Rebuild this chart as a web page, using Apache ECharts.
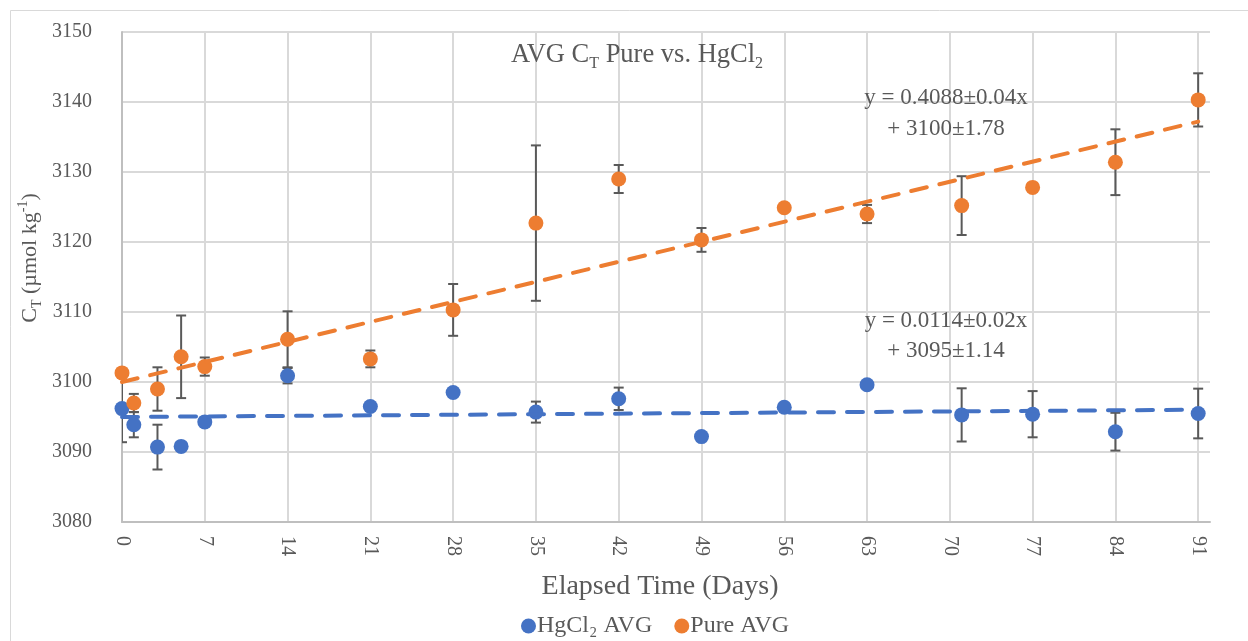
<!DOCTYPE html>
<html>
<head>
<meta charset="utf-8">
<script src="https://cdn.jsdelivr.net/npm/echarts@6/dist/echarts.min.js"></script>
<style>html,body{margin:0;padding:0;background:#fff;}#chart{width:1248px;height:641px;}</style>
</head>
<body>
<div id="chart"></div>
<script>
// ---- data ----
const days = [0, 1, 3, 5, 7, 14, 21, 28, 35, 42, 49, 56, 63, 71, 77, 84, 91];
const hgAvg = [3096.2, 3093.9, 3090.7, 3090.8, 3094.3, 3100.9, 3096.5, 3098.5, 3095.7, 3097.6, 3092.2, 3096.4, 3099.6, 3095.3, 3095.4, 3092.9, 3095.5];
const hgErr = [4.8, 1.8, 3.2, 0, 0, 1.1, 0, 0, 1.5, 1.6, 0, 0, 0, 3.8, 3.3, 2.7, 3.55];
const pureAvg = [3101.3, 3097.0, 3099.0, 3103.6, 3102.2, 3106.1, 3103.3, 3110.3, 3122.7, 3129.0, 3120.3, 3124.9, 3124.0, 3125.2, 3127.8, 3131.4, 3140.3];
const pureErr = [0, 1.3, 3.1, 5.9, 1.3, 4.0, 1.2, 3.7, 11.1, 2.0, 1.7, 0, 1.3, 4.2, 0, 4.7, 3.8];
const seriesNames = ['HgCl\u2082 AVG', 'Pure AVG'];
const trendSlope = [0.0114, 0.4088];
const trendIntercept = [3095, 3100];
const trendLabels = [['y = 0.0114\u00b10.02x', '+ 3095\u00b11.14'], ['y = 0.4088\u00b10.04x', '+ 3100\u00b11.78']];
const xTicks = {min: 0, max: 92, interval: 7};
const yTicks = {min: 3080, max: 3150, interval: 10};

const BLUE = '#4472C4', ORANGE = '#ED7D31', TXT = '#595959';
const FONT = '"Liberation Serif", "Times New Roman", serif';

function pts(xs, ys) { return xs.map((x, i) => [x, ys[i]]); }
function errData(xs, ys, es) {
  return xs.map((x, i) => [x, ys[i] - es[i], ys[i] + es[i], es[i]]).filter(d => d[3] > 0);
}
function trend(k) {
  const x0 = days[0], x1 = days[days.length - 1];
  return [[x0, trendIntercept[k] + trendSlope[k] * x0], [x1, trendIntercept[k] + trendSlope[k] * x1]];
}
function errRender(params, api) {
  const x = api.value(0), lo = api.value(1), hi = api.value(2);
  const t = api.coord([x, hi]), b = api.coord([x, lo]);
  const c = 5;
  const st = {stroke: TXT, lineWidth: 2};
  return {type: 'group', children: [
    {type: 'line', shape: {x1: t[0], y1: t[1], x2: b[0], y2: b[1]}, style: st},
    {type: 'line', shape: {x1: t[0] - c, y1: t[1], x2: t[0] + c, y2: t[1]}, style: st},
    {type: 'line', shape: {x1: b[0] - c, y1: b[1], x2: b[0] + c, y2: b[1]}, style: st}
  ]};
}

const chart = echarts.init(document.getElementById('chart'), null, {renderer: 'canvas'});
function richSet(size) {
  const s = Math.round(size * 0.62);
  return {
    n: {fontFamily: FONT, fontSize: size, fontWeight: 'normal', color: TXT, lineHeight: size + 6},
    sub: {fontFamily: FONT, fontSize: s, fontWeight: 'normal', color: TXT, lineHeight: s, verticalAlign: 'bottom'},
    sup: {fontFamily: FONT, fontSize: s, fontWeight: 'normal', color: TXT, lineHeight: s, verticalAlign: 'top'}
  };
}
const option = {
  backgroundColor: '#fff',
  animation: false,
  title: {
    text: '{n|AVG C}{sub|T}{n| Pure vs. HgCl}{sub|2}',
    left: 632, top: 34, textAlign: 'center',
    textStyle: {fontWeight: 'normal', rich: richSet(26.5)}
  },
  grid: {left: 122, top: 32, right: 38, bottom: 119, containLabel: false},
  xAxis: {
    type: 'value', min: xTicks.min, max: xTicks.max, interval: xTicks.interval,
    name: 'Elapsed Time (Days)', nameLocation: 'middle', nameGap: 51,
    nameTextStyle: {fontFamily: FONT, fontSize: 28, color: TXT, padding: [0, 12, 0, 0]},
    axisLine: {show: true, lineStyle: {color: '#BFBFBF', width: 2}},
    axisTick: {show: false},
    axisLabel: {rotate: -90, margin: 14, fontFamily: FONT, fontSize: 20, color: TXT, showMaxLabel: false},
    splitLine: {show: true, showMaxLine: false, lineStyle: {color: '#D9D9D9', width: 2}}
  },
  yAxis: {
    type: 'value', min: yTicks.min, max: yTicks.max, interval: yTicks.interval,
    name: '{n|C}{sub|T}{n| (\u00b5mol kg}{sup|-1}{n|)}', nameLocation: 'middle', nameGap: 78, nameRotate: 90,
    nameMoveOverlap: false,
    nameTextStyle: {rich: richSet(22), padding: [0, 0, 0, 38]},
    axisLine: {show: true, lineStyle: {color: '#BFBFBF', width: 2}},
    axisTick: {show: false},
    axisLabel: {margin: 30, fontFamily: FONT, fontSize: 20, color: TXT, formatter: v => String(v)},
    splitLine: {show: true, lineStyle: {color: '#D9D9D9', width: 2}}
  },
  legend: {
    data: seriesNames, bottom: -2, left: 516, icon: 'circle', itemWidth: 15, itemHeight: 15, itemGap: 22,
    textStyle: {fontFamily: FONT, fontSize: 24, color: TXT, padding: [0, 0, 0, -4]}
  },
  graphic: [
    {type: 'rect', silent: true, z: -10, shape: {x: 10.5, y: 10.5, width: 1300, height: 700}, style: {fill: 'none', stroke: '#D9D9D9', lineWidth: 1}}
  ],
  series: [
    {type: 'custom', name: 'errHg', renderItem: errRender, data: errData(days, hgAvg, hgErr), z: 2, clip: true, silent: true},
    {type: 'custom', name: 'errPure', renderItem: errRender, data: errData(days, pureAvg, pureErr), z: 2, clip: true, silent: true},
    {type: 'scatter', name: seriesNames[0], data: pts(days, hgAvg), symbolSize: 15, itemStyle: {color: BLUE, opacity: 1}, z: 3},
    {type: 'scatter', name: seriesNames[1], data: pts(days, pureAvg), symbolSize: 15, itemStyle: {color: ORANGE, opacity: 1}, z: 3},
    {type: 'line', name: 'trendHg', data: trend(0), showSymbol: false, symbol: 'none', z: 4, silent: true,
      lineStyle: {color: BLUE, width: 4, type: [16, 13], cap: 'round'}},
    {type: 'line', name: 'trendPure', data: trend(1), showSymbol: false, symbol: 'none', z: 4, silent: true,
      lineStyle: {color: ORANGE, width: 4, type: [16, 13], cap: 'round'}}
  ]
};
// equation annotations
const eqPos = [[946, 321, 351], [946, 98, 129]];
trendLabels.forEach((lines, k) => {
  lines.forEach((t, j) => {
    option.graphic.push({type: 'text', x: eqPos[k][0], y: eqPos[k][1 + j], z: 10, silent: true,
      style: {text: t, fontFamily: FONT, fontSize: 23, fill: TXT, align: 'center', verticalAlign: 'middle'}});
  });
});
chart.setOption(option);
</script>
</body>
</html>
